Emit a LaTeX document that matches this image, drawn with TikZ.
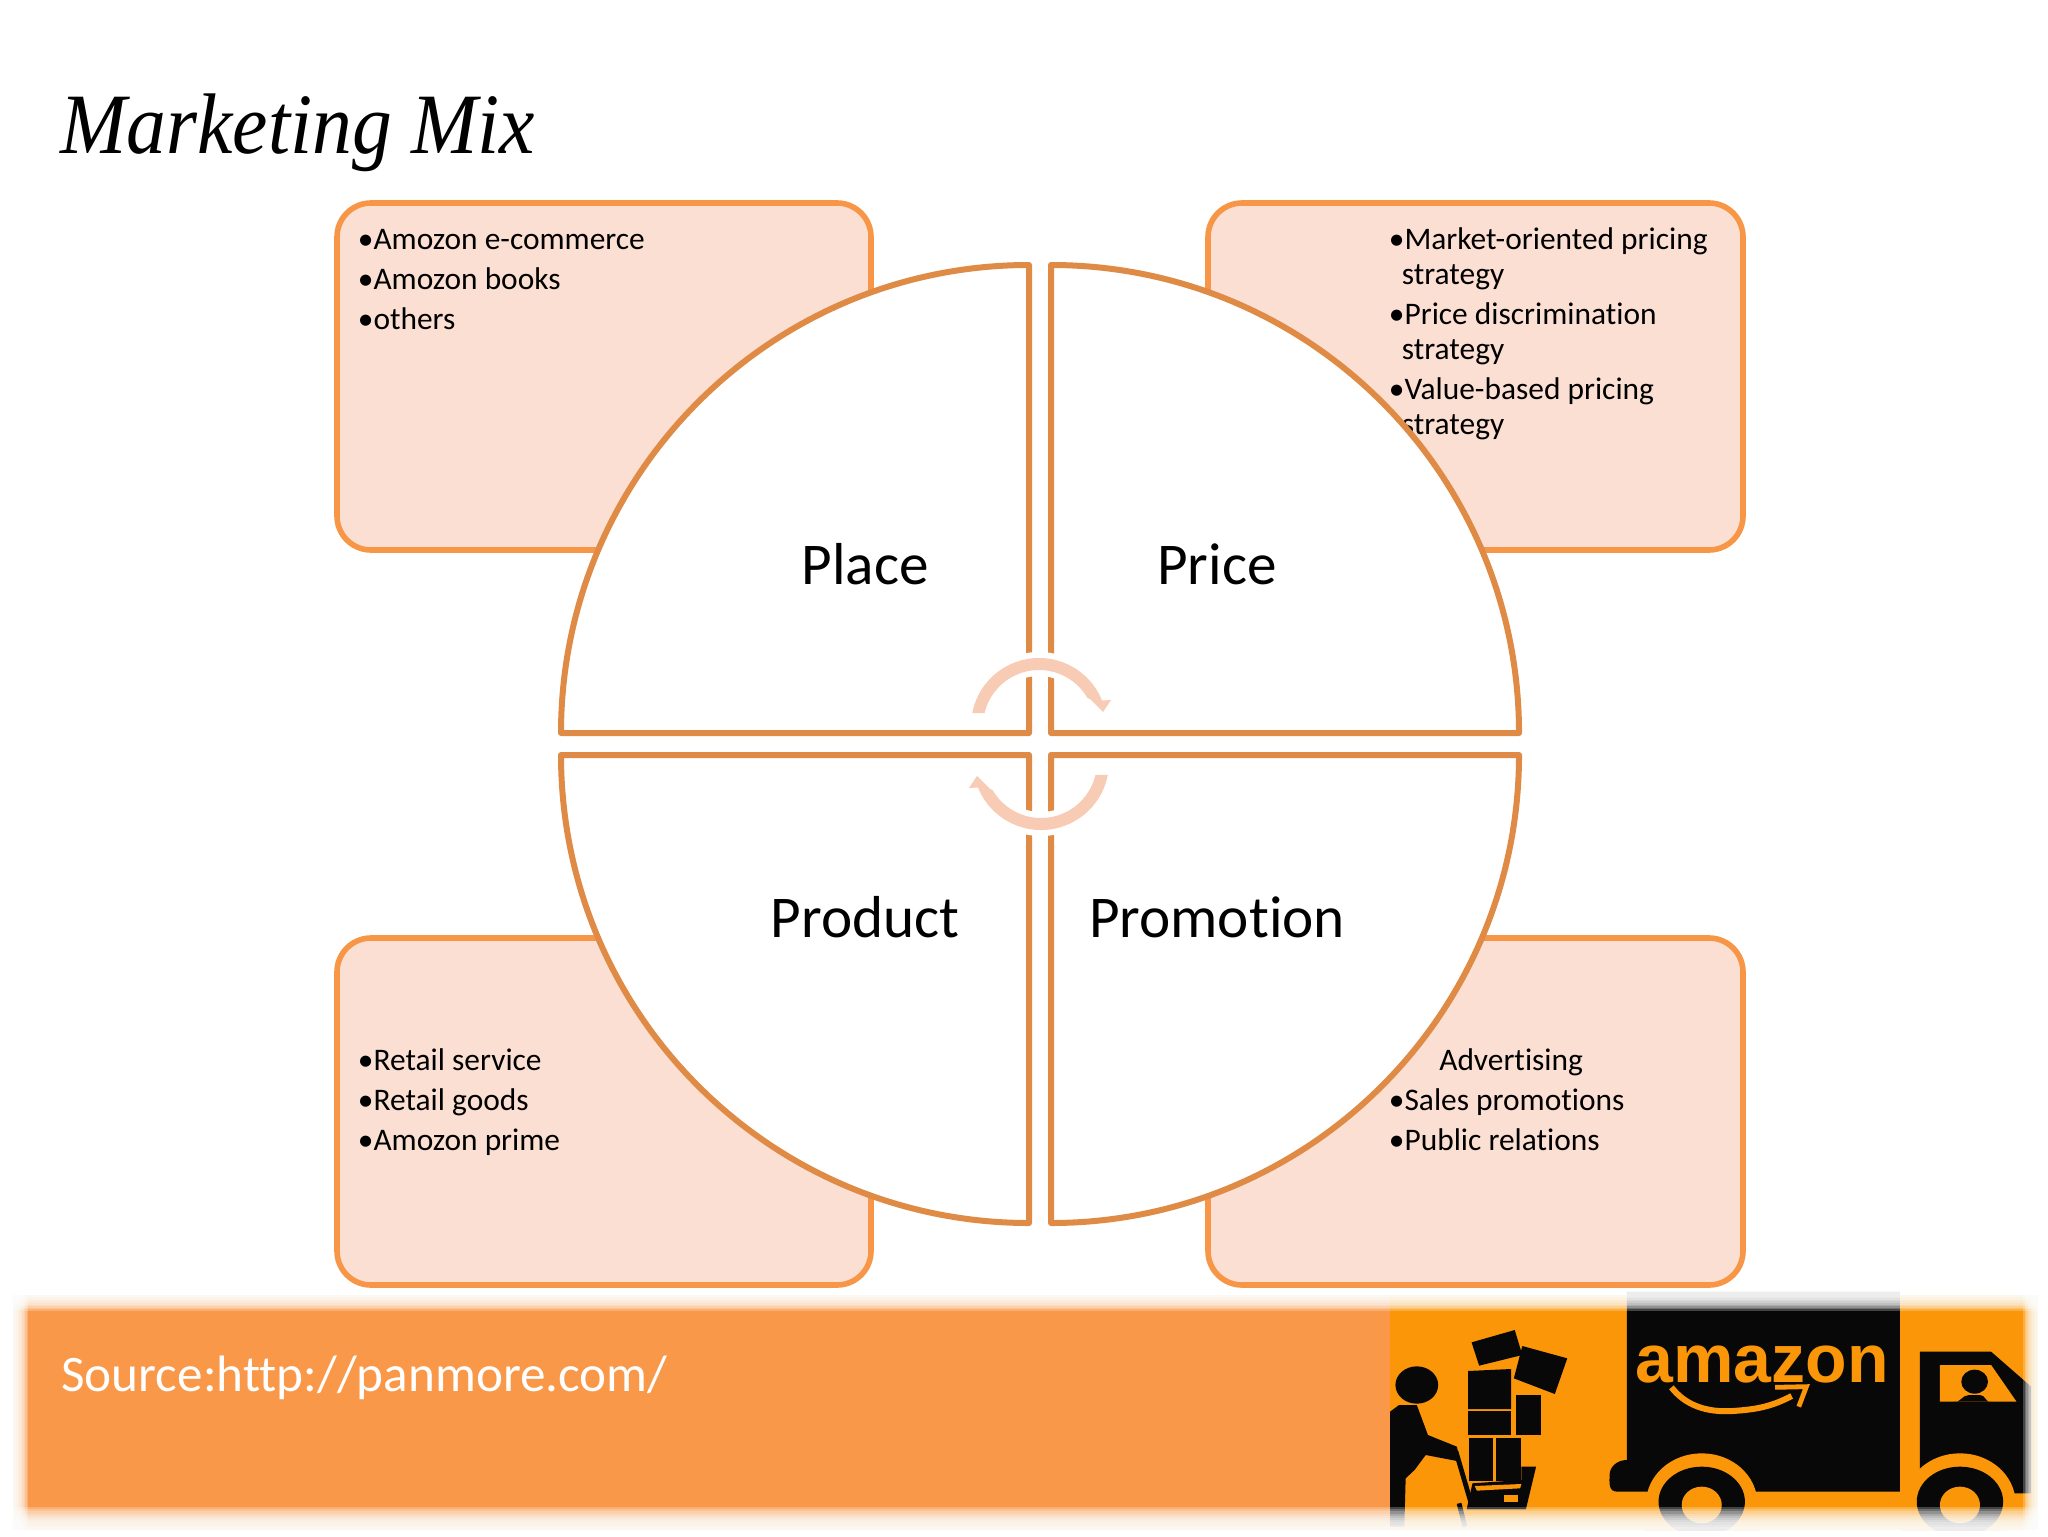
\documentclass[tikz,border=0pt]{standalone}
\usepackage{fontspec}
\setmainfont[Ligatures=NoCommon]{Carlito}
\newfontfamily\titlefont[FakeStretch=0.925]{Liberation Serif Italic}
\newfontfamily\logofont{Liberation Sans}
\definecolor{boxfill}{HTML}{FBDFD3}
\definecolor{boxline}{HTML}{F79646}
\definecolor{ringline}{HTML}{E08B45}
\definecolor{cyc}{HTML}{F8CBB4}
\definecolor{band}{HTML}{F99848}
\definecolor{truckbg}{HTML}{FB9608}
\definecolor{ink}{HTML}{080808}
\newcommand{\fl}{\rule{0pt}{12pt}}
\tikzset{
  x=0.5pt,y=-0.5pt,
  infobox/.style={draw=boxline,fill=boxfill,line width=2.8pt,rounded corners=17pt},
  quad/.style={draw=ringline,fill=white,line width=3pt,line join=round},
  itemtext/.style={anchor=north west,inner sep=0pt,align=left,font=\fontsize{15.7}{17.5}\selectfont,text=black},
  itemwide/.style={itemtext,font=\fontsize{15.7}{20}\selectfont},
  quadlabel/.style={inner sep=0pt,font=\fontsize{29.6}{32}\selectfont,text=black},
}
\begin{document}
\begin{tikzpicture}
\useasboundingbox (0,0) rectangle (2048,1536);
\fill[white] (0,0) rectangle (2048,1536);
% title
\node[anchor=base west,inner sep=0pt,font=\titlefont\fontsize{43}{46}\selectfont] (title) at (60,153) {Marketing Mix};
% info boxes
\path[infobox] (337,203) rectangle (871,550);
\path[infobox] (1208,203) rectangle (1743,550);
\path[infobox] (337,938) rectangle (871,1285);
\path[infobox] (1208,938) rectangle (1743,1285);
% list texts
\node[itemwide] (tl) at (357.5,225) {\fl•Amozon e-commerce\\•Amozon books\\•others};
\node[itemtext] (tr) at (1388.5,225) {\fl•Market-oriented pricing\\\hspace*{6.5pt}strategy\\[2.5pt]•Price discrimination\\\hspace*{6.5pt}strategy\\[2.5pt]•Value-based pricing\\\hspace*{6.5pt}strategy};
\node[itemwide] (bl) at (357.5,1046) {\fl•Retail service\\•Retail goods\\•Amozon prime};
\node[itemwide] (br) at (1388.5,1046) {\fl\hspace*{25.2pt}Advertising\\•Sales promotions\\•Public relations};
% quadrants
\path[quad] (1029,733) -- (1029,265) arc[start angle=270,end angle=180,radius=468] -- cycle;
\path[quad] (1051,733) -- (1051,265) arc[start angle=270,end angle=360,radius=468] -- cycle;
\path[quad] (1029,755) -- (1029,1223) arc[start angle=90,end angle=180,radius=468] -- cycle;
\path[quad] (1051,755) -- (1051,1223) arc[start angle=90,end angle=0,radius=468] -- cycle;
% cycle arrows
\foreach \r in {0,180}{
\begin{scope}[rotate around={\r:(1040,744)}]
  \draw[white,line width=12pt] ([shift={(1039,726)}]190:62) arc[start angle=190,end angle=342,radius=62];
  \fill[cyc] ([shift={(1039,726)}]191:68) arc[start angle=191,end angle=338,radius=68]
     -- (1111,700) -- (1103,712) -- (1090,699)
     -- ([shift={(1039,726)}]330:56) arc[start angle=330,end angle=193.4,radius=56] -- cycle;
\end{scope}}
% quadrant labels
\node[quadlabel] (place) at (865,564.5) {Place};
\node[quadlabel] (price) at (1217,564.5) {Price};
\node[quadlabel] (product) at (865,917.5) {Product};
\node[quadlabel] (promotion) at (1217,917.5) {Promotion};
% footer band
\fill[band] (13,1295) rectangle (1392,1530);
\begin{scope}
\clip (1390,1290) rectangle (2038,1530);
\fill[truckbg] (1390,1295) rectangle (2038,1530);
\begin{scope}[shift={(1350,1270)},xscale=0.4452,yscale=0.3333]
  % cargo box
  \fill[ink] (622,65) -- (1235,65) -- (1235,665) -- (620,665) -- (600,665) to[out=180,in=270] (583,615) to[out=90,in=180] (622,570) -- cycle;
  % cab
  \fill[ink] (1280,245) -- (1440,245) -- (1530,350) -- (1530,670) -- (1280,670) -- cycle;
  % wheels
  \fill[truckbg] (790,700) ellipse[x radius=125,y radius=150];
  \fill[truckbg] (1370,700) ellipse[x radius=125,y radius=150];
  \fill[truckbg] (660,665) rectangle (920,800);
  \fill[truckbg] (1240,665) rectangle (1280,800);
  \fill[ink] (790,695) ellipse[x radius=97,y radius=105];
  \fill[ink] (1370,695) ellipse[x radius=97,y radius=105];
  \fill[truckbg] (790,705) ellipse[x radius=45,y radius=55];
  \fill[truckbg] (1370,705) ellipse[x radius=45,y radius=55];
  % cab window and driver
  \fill[truckbg] (1325,285) -- (1440,285) -- (1497,395) -- (1325,395) -- cycle;
  \fill[ink] (1403,335) ellipse[x radius=30,y radius=36];
  \fill[ink] (1355,395) to[out=-30,in=180] (1390,375) -- (1415,375) to[out=0,in=210] (1440,395) -- cycle;
  % smile
  \draw[truckbg,line width=3pt] (722,352) to[out=-60,in=185] (860,423) to[out=5,in=215] (992,378);
  \draw[truckbg,line width=2.4pt] (955,352) -- (1025,350) -- (1008,410);
  % person
  \fill[ink] (150,345) ellipse[x radius=48,y radius=56];
  \fill[ink] (85,430) -- (110,405) -- (150,405) -- (175,495) -- (240,530) -- (248,575) -- (170,555) -- (145,600) -- (125,625) -- (122,770) -- (85,770) -- cycle;
  % cart handle
  \draw[ink,line width=2.4pt] (238,545) -- (272,700);
  \draw[ink,line width=2.4pt] (245,700) -- (258,770);
  % parcels
  \fill[ink] (273,217) -- (370,180) -- (387,255) -- (290,287) -- cycle;
  \fill[ink] (387,228) -- (488,265) -- (460,372) -- (368,325) -- cycle;
  \fill[ink] (265,303) -- (362,297) -- (362,417) -- (265,417) -- cycle;
  \fill[ink] (265,423) rectangle (362,495);
  \fill[ink] (372,375) rectangle (428,495);
  \fill[ink] (268,503) rectangle (322,632);
  \fill[ink] (328,503) rectangle (385,632);
  % basket
  \fill[ink] (275,640) -- (385,630) -- (385,590) -- (418,590) -- (395,718) -- (262,718) -- cycle;
  \fill[truckbg] (280,648) -- (385,642) -- (382,655) -- (285,662) -- cycle;
  \fill[truckbg] (345,675) rectangle (378,695);
\end{scope}
\end{scope}
\node[inner sep=0pt,font=\logofont\bfseries\fontsize{34}{36}\selectfont,text=truckbg] (logo) at (1762,1364) {amazon};
% soft edges of the footer
\foreach \i in {1,...,10}{
  \fill[white,opacity=.24] (0,1288) rectangle (2048,1295+1.6*\i);
  \fill[white,opacity=.24] (0,1540) rectangle (2048,1529-2.2*\i);
  \fill[white,opacity=.24] (8,1288) rectangle (13+1.5*\i,1540);
  \fill[white,opacity=.24] (2048,1288) rectangle (2038-1.5*\i,1540);
}
\node[anchor=base west,inner sep=0pt,text=white,font=\fontsize{25.6}{28}\selectfont] (source) at (61,1391.5) {Source:http://panmore.com/};
\end{tikzpicture}
\end{document}
